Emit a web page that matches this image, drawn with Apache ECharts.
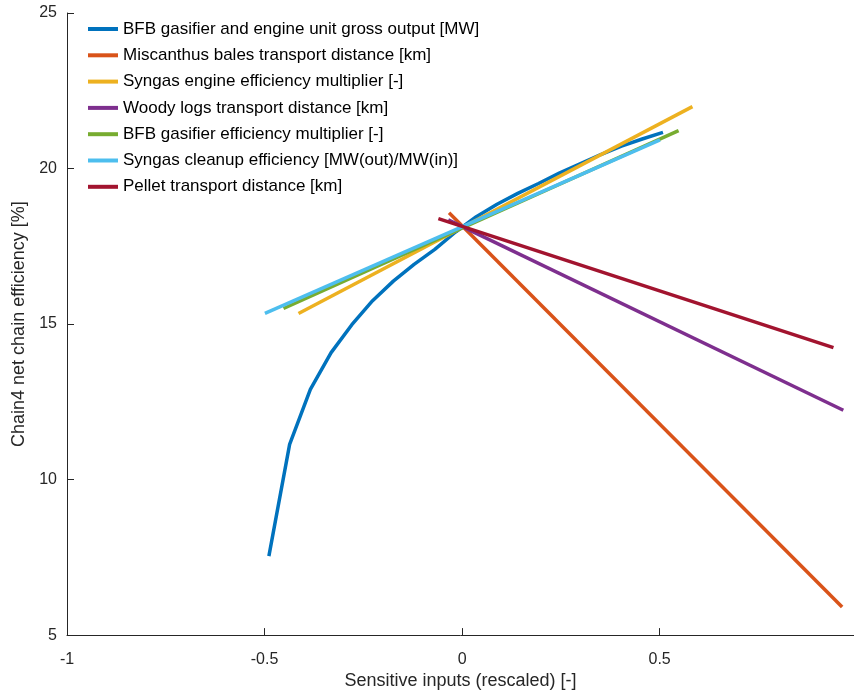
<!DOCTYPE html>
<html>
<head>
<meta charset="utf-8">
<script src="https://cdn.jsdelivr.net/npm/echarts@6/dist/echarts.min.js"></script>
<style>html,body{margin:0;padding:0;background:#fff}#c{width:854px;height:695px}</style>
</head>
<body>
<div id="c"></div>
<script>
const seriesNames = [
  "BFB gasifier and engine unit gross output [MW]",
  "Miscanthus bales transport distance [km]",
  "Syngas engine efficiency multiplier [-]",
  "Woody logs transport distance [km]",
  "BFB gasifier efficiency multiplier [-]",
  "Syngas cleanup efficiency [MW(out)/MW(in)]",
  "Pellet transport distance [km]"
];
const colors = ["#0072BD","#D95319","#EDB120","#7E2F8E","#77AC30","#4DBEEE","#A2142F"];

const bfbUnitX = [-0.489,-0.4365,-0.384,-0.3315,-0.279,-0.2265,-0.174,-0.1215,-0.069,-0.0165,0.036,0.0885,0.141,0.1935,0.246,0.2985,0.351,0.4035,0.456,0.5085];
const bfbUnitY = [7.54,11.13,12.9,14.08,14.98,15.75,16.38,16.92,17.40,17.96,18.45,18.85,19.2,19.52,19.85,20.15,20.45,20.72,20.95,21.16];
const miscanthusX = [-0.033, 0.962];
const miscanthusY = [18.58, 5.90];
const engineEffX = [-0.414, 0.583];
const engineEffY = [15.34, 21.99];
const woodyX = [-0.035, 0.965];
const woodyY = [18.35, 12.23];
const gasifEffX = [-0.452, 0.548];
const gasifEffY = [15.50, 21.22];
const cleanupX = [-0.499, 0.501];
const cleanupY = [15.34, 20.92];
const pelletX = [-0.060, 0.940];
const pelletY = [18.39, 14.24];

const allX = [bfbUnitX, miscanthusX, engineEffX, woodyX, gasifEffX, cleanupX, pelletX];
const allY = [bfbUnitY, miscanthusY, engineEffY, woodyY, gasifEffY, cleanupY, pelletY];

const xTicks = [-1, -0.5, 0, 0.5];
const yTicks = [5, 10, 15, 20, 25];

const axisColor = "#262626";
const font = "Liberation Sans, Arial, sans-serif";

const chart = echarts.init(document.getElementById('c'), null, {renderer: 'canvas'});
chart.setOption({
  animation: false,
  backgroundColor: '#fff',
  grid: {left: 67, top: 13, width: 787, height: 623, containLabel: false},
  legend: {
    orient: 'vertical', left: 88, top: 20, padding: 0,
    icon: 'rect', itemWidth: 30, itemHeight: 4, itemGap: 8.3,
    textStyle: {fontFamily: font, fontSize: 17, color: '#000', lineHeight: 18},
    data: seriesNames
  },
  xAxis: {
    type: 'value', min: -1, max: 0.992, interval: 0.5,
    name: 'Sensitive inputs (rescaled) [-]', nameLocation: 'middle', nameGap: 35,
    nameTextStyle: {fontFamily: font, fontSize: 18, color: axisColor},
    axisLine: {show: true, onZero: false, lineStyle: {color: axisColor, width: 1}},
    axisTick: {show: true, inside: true, length: 7, lineStyle: {color: axisColor}},
    axisLabel: {fontFamily: font, fontSize: 16, color: axisColor, margin: 16, showMaxLabel: false,
      formatter: v => xTicks.includes(Math.round(v*1000)/1000) ? String(v) : ''},
    splitLine: {show: false}
  },
  yAxis: {
    type: 'value', min: 5, max: 25, interval: 5,
    name: 'Chain4 net chain efficiency [%]', nameLocation: 'middle', nameGap: 38,
    nameTextStyle: {fontFamily: font, fontSize: 18, color: axisColor},
    axisLine: {show: true, onZero: false, lineStyle: {color: axisColor, width: 1}},
    axisTick: {show: true, inside: true, length: 7, lineStyle: {color: axisColor}},
    axisLabel: {fontFamily: font, fontSize: 16, color: axisColor, margin: 10,
      padding: [8, 0, 0, 0],
      formatter: v => yTicks.includes(v) ? String(v) : ''},
    splitLine: {show: false}
  },
  series: seriesNames.map((n, i) => ({
    name: n, type: 'line', showSymbol: false, symbol: 'none',
    data: allX[i].map((x, j) => [x, allY[i][j]]),
    lineStyle: {color: colors[i], width: 3.5},
    itemStyle: {color: colors[i]},
    z: 2 + i
  }))
});
</script>
</body>
</html>
